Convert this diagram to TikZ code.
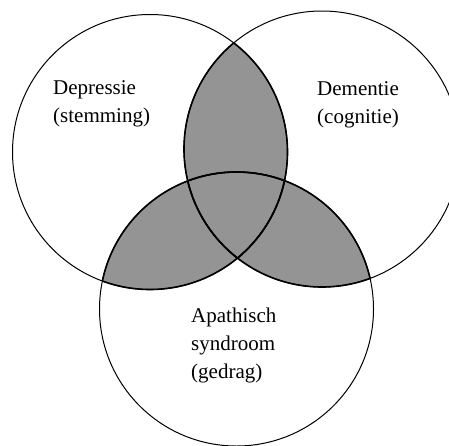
\documentclass[tikz,border=0pt]{standalone}
\usepackage{fontspec}
\setmainfont{Liberation Serif}
\begin{document}
\begin{tikzpicture}[x=1pt,y=-1pt,
  ring/.style={draw=black,line width=1pt},
  thick ring/.style={draw=black,line width=1.6pt},
  lensfill/.style={fill=black!42},
  lab/.style={align=left,anchor=north west,inner sep=0pt,font=\fontsize{21}{28}\selectfont}]
\useasboundingbox (0,0) rectangle (449,445);
\clip (0,0) rectangle (449,445);
\def\A{(150,152) circle (137.5)}
\def\B{(322,149) circle (138)}
\def\C{(236.5,309) circle (137)}
\begin{scope}\clip \A; \fill[lensfill] \B; \fill[lensfill] \C;\end{scope}
\begin{scope}\clip \B; \fill[lensfill] \C;\end{scope}
\draw[ring] \A;
\draw[ring] \B;
\draw[ring] \C;
\begin{scope}\clip \B; \draw[thick ring] \A; \draw[thick ring] \C;\end{scope}
\begin{scope}\clip \A; \draw[thick ring] \B; \draw[thick ring] \C;\end{scope}
\begin{scope}\clip \C; \draw[thick ring] \A; \draw[thick ring] \B;\end{scope}
\node[lab] (dep) at (53,80) {Depressie\\(stemming)};
\node[lab] (dem) at (317,81) {Dementie\\(cognitie)};
\node[lab] (apa) at (191,308) {Apathisch\\syndroom\\(gedrag)};
\end{tikzpicture}
\end{document}
